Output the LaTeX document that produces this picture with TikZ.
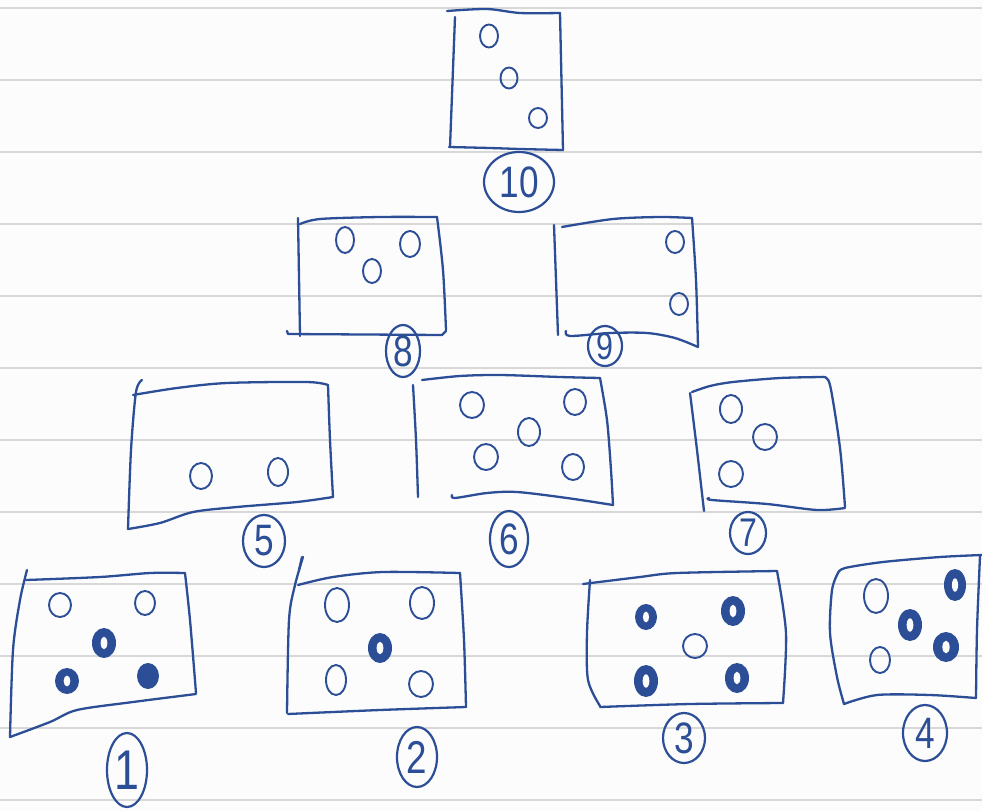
\documentclass[tikz,border=0pt]{standalone}
\usepackage{fontspec}
\setmainfont{Liberation Sans}
\usetikzlibrary{shapes.geometric}
\definecolor{ink}{RGB}{44,78,150}
\definecolor{rulecol}{RGB}{216,216,216}
\definecolor{paper}{RGB}{252,252,253}
\newcommand{\handnum}[2]{\fontsize{#1}{#1}\selectfont\scalebox{0.8}[1]{#2}}
\newcommand{\opendot}[4]{\draw[dotline] (#1,#2) ellipse [x radius=#3, y radius=#4];}
\newcommand{\ringdot}[4]{\fill[ink] (#1,#2) ellipse [x radius=#3, y radius=#4];
  \fill[paper] (#1,#2) ellipse [x radius=0.28*#3, y radius=0.42*#4];}
\newcommand{\soliddot}[4]{\fill[ink] (#1,#2) ellipse [x radius=#3, y radius=#4];}
\begin{document}
\begin{tikzpicture}[x=1pt,y=-1pt,
  pen/.style={draw=ink,line width=2.3pt,line cap=round,line join=round},
  dotline/.style={draw=ink,line width=1.9pt},
  lbl/.style={ellipse,draw=ink,line width=2.2pt,inner sep=0pt,text=ink}]
\fill[paper] (0,0) rectangle (982,811);
\useasboundingbox (0,0) rectangle (982,811);
\foreach \y in {8,80,...,800} \draw[rulecol,line width=2pt] (0,\y) -- (982,\y);

% ---- Box 10 ----
\draw[pen] plot[smooth] coordinates {(447,11) (487,9) (520,13) (560,13)};
\draw[pen] (455,17) -- (450,147);
\draw[pen] (560,13) -- (563,150);
\draw[pen] plot[smooth] coordinates {(449,147) (490,148) (520,149) (563,150)};
\opendot{489}{36}{9}{11.5}
\opendot{509}{78}{8.5}{10.5}
\opendot{538}{118}{9}{10}
\node[lbl,minimum width=70,minimum height=60] (l10) at (519,182) {\handnum{44}{10}};

% ---- Box 8 ----
\draw[pen] (298,218) -- (300,336);
\draw[pen] plot[smooth] coordinates {(300,224) (320,219) (380,217) (437,217)};
\draw[pen] plot[smooth] coordinates {(437,217) (443,270) (446,330)};
\draw[pen] (287,331) -- (288,334) -- (442,335) -- (446,331);
\opendot{345}{240}{9}{13}
\opendot{410}{244}{10}{13}
\opendot{372}{271}{9}{12}
\node[lbl,minimum width=34,minimum height=52] (l8) at (403,351) {\handnum{44}{8}};

% ---- Box 9 ----
\draw[pen] plot[smooth] coordinates {(554,225) (556,280) (558,335)};
\draw[pen] plot[smooth] coordinates {(562,227) (613,219) (660,217) (692,218)};
\draw[pen] plot[smooth] coordinates {(692,218) (696,280) (698,347)};
\draw[pen] plot[smooth] coordinates {(566,331) (570,336) (610,333) (647,333) (675,338) (698,347)};
\opendot{675}{242}{9}{11}
\opendot{679}{304}{9}{11}
\node[lbl,minimum width=34,minimum height=40] (l9) at (605,346) {\handnum{38}{9}};

% ---- Box 5 ----
\draw[pen] plot[smooth] coordinates {(142,380) (136,392) (131,450) (128,529)};
\draw[pen] plot[smooth] coordinates {(133,395) (177,388) (227,383) (307,382) (328,385)};
\draw[pen] plot[smooth] coordinates {(328,385) (330,440) (333,497)};
\draw[pen] plot[smooth] coordinates {(128,529) (160,523) (193,512) (237,507) (297,502) (333,497)};
\draw[pen] (302,557) -- (299,570);
\opendot{201}{476}{11}{13}
\opendot{278}{472}{10}{14}
\node[lbl,minimum width=42,minimum height=52] (l5) at (264,541) {\handnum{44}{5}};

% ---- Box 6 ----
\draw[pen] plot[smooth] coordinates {(413,385) (416,440) (418,497)};
\draw[pen] plot[smooth] coordinates {(422,380) (460,376) (500,375) (560,377) (600,378)};
\draw[pen] plot[smooth] coordinates {(600,378) (607,420) (611,470) (613,505)};
\draw[pen] plot[smooth] coordinates {(452,495) (455,498) (487,493) (517,492) (567,498) (613,505)};
\opendot{472}{405}{12}{13}
\opendot{575}{402}{11}{13}
\opendot{529}{432}{11}{14}
\opendot{486}{457}{12}{13}
\opendot{573}{467}{11}{13}
\node[lbl,minimum width=38,minimum height=56] (l6) at (509,539) {\handnum{44}{6}};

% ---- Box 7 ----
\draw[pen] plot[smooth] coordinates {(690,393) (697,450) (704,511)};
\draw[pen] plot[smooth] coordinates {(692,392) (710,386) (733,382) (780,378) (823,377)};
\draw[pen] plot[smooth] coordinates {(823,377) (830,385) (840,448) (845,507)};
\draw[pen] plot[smooth] coordinates {(709,498) (712,500) (767,504) (817,510) (845,508)};
\opendot{731}{409}{11}{14}
\opendot{765}{437}{12}{13}
\opendot{731}{474}{12}{13}
\node[lbl,minimum width=36,minimum height=42] (l7) at (748,533) {\handnum{40}{7}};

% ---- Box 1 ----
\draw[pen] plot[smooth] coordinates {(27,570) (20,600) (13,650) (10,737)};
\draw[pen] plot[smooth] coordinates {(26,580) (100,577) (150,573) (185,573)};
\draw[pen] plot[smooth] coordinates {(185,573) (190,620) (196,693)};
\draw[pen] plot[smooth] coordinates {(10,737) (50,722) (77,710) (133,702) (196,694)};
\opendot{60}{605}{11}{12}
\opendot{145}{603}{10}{12}
\ringdot{104}{643}{12}{15}
\ringdot{67}{681}{12}{13}
\soliddot{148}{676}{11}{13}
\node[lbl,minimum width=40,minimum height=74] (l1) at (127,770) {\handnum{56}{1}};

% ---- Box 2 ----
\draw[pen] plot[smooth] coordinates {(303,557) (295,585) (289,620) (287,713)};
\draw[pen] plot[smooth] coordinates {(298,585) (333,577) (383,572) (460,573)};
\draw[pen] plot[smooth] coordinates {(460,573) (464,640) (466,707)};
\draw[pen] plot[smooth] coordinates {(288,714) (380,710) (466,707)};
\opendot{337}{605}{12}{17}
\opendot{422}{603}{12}{16}
\ringdot{380}{648}{12}{15}
\opendot{336}{680}{10}{15}
\opendot{421}{684}{12}{13}
\node[lbl,minimum width=40,minimum height=60] (l2) at (417,757) {\handnum{46}{2}};

% ---- Box 3 ----
\draw[pen] plot[smooth] coordinates {(583,584) (640,577) (677,573) (777,571)};
\draw[pen] plot[smooth] coordinates {(590,580) (587,633) (588,680) (600,706)};
\draw[pen] plot[smooth] coordinates {(777,571) (786,633) (783,703)};
\draw[pen] plot[smooth] coordinates {(600,707) (690,704) (783,703)};
\ringdot{646}{617}{11}{13}
\ringdot{733}{611}{12}{15}
\opendot{695}{646}{12}{12}
\ringdot{646}{681}{12}{16}
\ringdot{737}{678}{12}{15}
\node[lbl,minimum width=42,minimum height=50] (l3) at (684,738) {\handnum{44}{3}};

% ---- Box 4 ----
\draw[pen] plot[smooth] coordinates {(838,573) (845,568) (883,562) (940,557) (982,555)};
\draw[pen] plot[smooth] coordinates {(838,573) (832,590) (830,633) (837,677) (844,704)};
\draw[pen] plot[smooth] coordinates {(980,556) (977,630) (976,698)};
\draw[pen] plot[smooth] coordinates {(844,704) (877,695) (930,695) (976,698)};
\opendot{876}{596}{12}{17}
\ringdot{955}{585}{11}{16}
\ringdot{910}{625}{12}{16}
\ringdot{946}{647}{13}{15}
\opendot{880}{660}{10}{13}
\node[lbl,minimum width=44,minimum height=56] (l4) at (925,733) {\handnum{44}{4}};
\end{tikzpicture}
\end{document}
